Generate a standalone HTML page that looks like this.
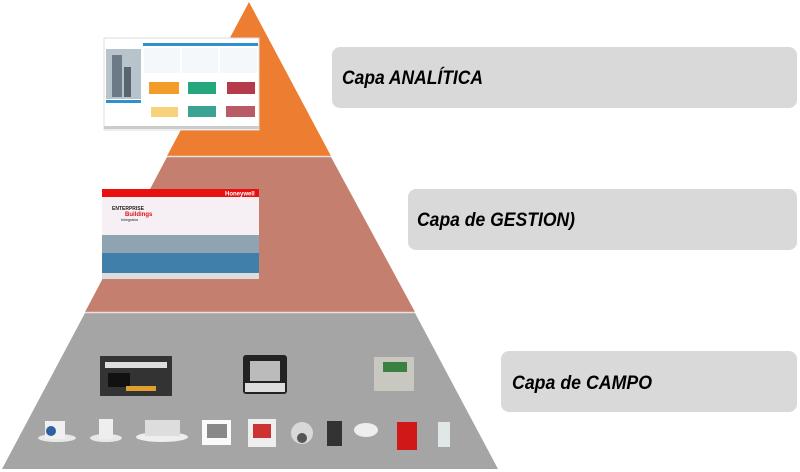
<!DOCTYPE html>
<html><head><meta charset="utf-8"><style>
html,body{margin:0;padding:0;background:#fff;width:800px;height:472px;overflow:hidden}
svg text{font-family:"Liberation Sans",sans-serif}
</style></head><body>
<svg width="800" height="472" viewBox="0 0 800 472" xmlns="http://www.w3.org/2000/svg">
<polygon points="249,2 331,156 167,156" fill="#ed7d31"/>
<polygon points="167,157 331,157 415,312 85,312" fill="#c47f6e"/>
<polygon points="85,313 415,313 498,469 2,469" fill="#a5a5a5"/>
<line x1="167" y1="156.5" x2="331" y2="156.5" stroke="#e8e0dc" stroke-width="1.5"/>
<line x1="85" y1="312.5" x2="415" y2="312.5" stroke="#e8e0dc" stroke-width="1.5"/>

<rect x="332" y="47" width="465" height="61" rx="8" fill="#d9d9d9"/>
<rect x="408" y="189" width="389" height="61" rx="8" fill="#d9d9d9"/>
<rect x="501" y="351" width="296" height="61" rx="8" fill="#d9d9d9"/>
<text x="342" y="84" font-size="19" font-weight="bold" font-style="italic" fill="#000" textLength="141" lengthAdjust="spacingAndGlyphs">Capa ANALÍTICA</text>
<text x="417" y="226" font-size="19" font-weight="bold" font-style="italic" fill="#000" textLength="158" lengthAdjust="spacingAndGlyphs">Capa de GESTION)</text>
<text x="512" y="389" font-size="19" font-weight="bold" font-style="italic" fill="#000" textLength="140" lengthAdjust="spacingAndGlyphs">Capa de CAMPO</text>

<!-- analytics screenshot -->
<rect x="104" y="38" width="155" height="92" fill="#fff" stroke="#ddd"/>
<rect x="106" y="49" width="35" height="50" fill="#b8c4cc"/>
<rect x="112" y="55" width="10" height="42" fill="#6b7a86"/>
<rect x="124" y="67" width="7" height="30" fill="#58646e"/>
<rect x="143" y="43" width="115" height="3" fill="#2f8fd0"/>
<rect x="144" y="48" width="36" height="25" fill="#f4f8fb"/>
<rect x="182" y="48" width="36" height="25" fill="#f4f8fb"/>
<rect x="220" y="48" width="37" height="25" fill="#f4f8fb"/>
<rect x="149" y="82" width="30" height="12" fill="#f29c2a"/>
<rect x="188" y="82" width="28" height="12" fill="#25a77e"/>
<rect x="227" y="82" width="28" height="12" fill="#b53a4c"/>
<rect x="151" y="107" width="27" height="10" fill="#f8d27a"/>
<rect x="188" y="106" width="28" height="11" fill="#3aa394"/>
<rect x="226" y="106" width="29" height="11" fill="#b95a65"/>
<rect x="106" y="100" width="35" height="3" fill="#2f8fd0"/>
<rect x="104" y="126" width="155" height="3" fill="#ccc"/>

<!-- EBI screenshot -->
<rect x="102" y="189" width="157" height="90" fill="#f6f0f4"/>
<rect x="102" y="189" width="157" height="8" fill="#e81010"/>
<text x="225" y="195.5" font-size="6" font-weight="bold" fill="#fff">Honeywell</text>
<text x="112" y="210" font-size="5" font-weight="bold" fill="#222">ENTERPRISE</text>
<text x="125" y="216" font-size="6" font-weight="bold" fill="#e01010">Buildings</text>
<text x="121" y="221" font-size="4" fill="#222">Integrator</text>
<rect x="102" y="235" width="157" height="18" fill="#8fa3b3"/>
<rect x="102" y="253" width="157" height="20" fill="#3f7faa"/>
<rect x="102" y="273" width="157" height="6" fill="#ddd"/>

<!-- field devices -->
<rect x="100" y="356" width="72" height="40" fill="#333"/>
<rect x="105" y="362" width="62" height="6" fill="#ddd"/>
<rect x="108" y="373" width="22" height="14" fill="#111"/>
<rect x="126" y="386" width="30" height="5" fill="#e0a030"/>
<rect x="243" y="355" width="44" height="39" rx="3" fill="#222"/>
<rect x="250" y="361" width="30" height="20" fill="#bbb"/>
<rect x="245" y="383" width="40" height="9" fill="#ddd"/>
<rect x="374" y="357" width="40" height="34" fill="#c8c8c0"/>
<rect x="383" y="362" width="24" height="10" fill="#3a8040"/>

<ellipse cx="57" cy="438" rx="19" ry="4" fill="#e8e8e8"/>
<rect x="45" y="421" width="20" height="18" fill="#f0f0f0"/>
<circle cx="51" cy="431" r="5" fill="#3060a0"/>
<ellipse cx="106" cy="438" rx="16" ry="4" fill="#e8e8e8"/>
<rect x="99" y="419" width="14" height="20" fill="#eee"/>
<ellipse cx="162" cy="437" rx="26" ry="5" fill="#eee"/>
<rect x="145" y="420" width="35" height="16" fill="#ddd"/>
<rect x="202" y="420" width="29" height="25" fill="#fafafa"/>
<rect x="207" y="424" width="20" height="14" fill="#888"/>
<rect x="248" y="419" width="28" height="28" fill="#eee"/>
<rect x="253" y="424" width="18" height="14" fill="#c33"/>
<circle cx="302" cy="433" r="11" fill="#d8d8d8"/>
<circle cx="302" cy="438" r="5" fill="#555"/>
<rect x="327" y="421" width="15" height="25" fill="#333"/>
<ellipse cx="366" cy="430" rx="12" ry="7" fill="#eee"/>
<rect x="397" y="422" width="20" height="28" fill="#d01818"/>
<rect x="438" y="422" width="12" height="25" fill="#dfe8e6"/>
</svg>
</body></html>
